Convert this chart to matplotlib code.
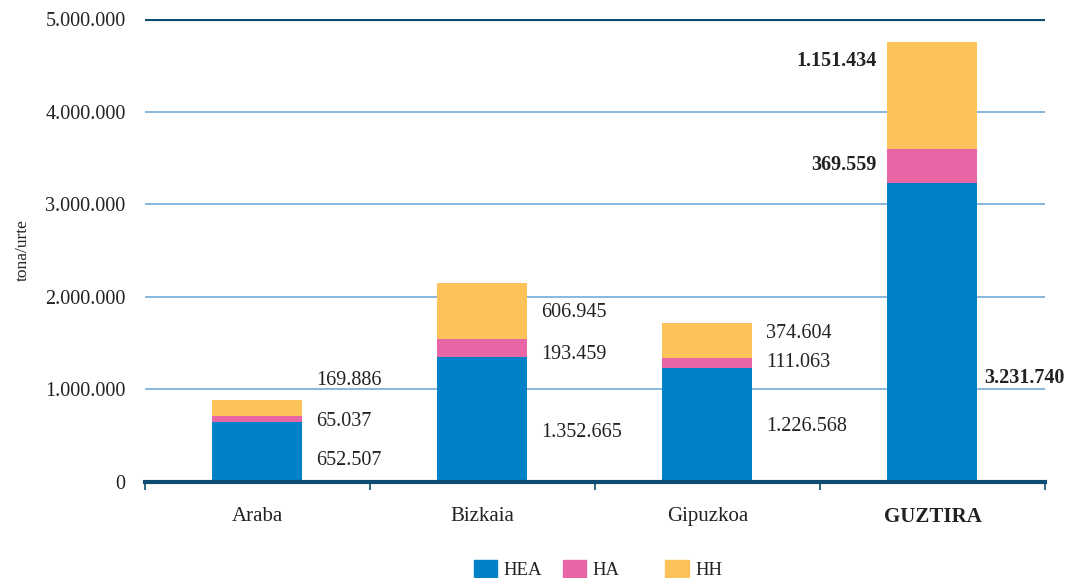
import matplotlib.pyplot as plt
from matplotlib.patches import Patch
from matplotlib.ticker import FuncFormatter

categories = ['Araba', 'Bizkaia', 'Gipuzkoa', 'GUZTIRA']
hea = [652507, 1352665, 1226568, 3231740]
ha = [65037, 193459, 111063, 369559]
hh = [169886, 606945, 374604, 1151434]
series_names = ['HEA', 'HA', 'HH']
colors = ['#0081c8', '#e966a6', '#fdc25a']

# label placement (y in data units)
lab_y = [
    [0.23e6, 0.65e6, 1.10e6],
    [0.53e6, 1.38e6, 1.83e6],
    [0.60e6, 1.29e6, 1.60e6],
    [1.12e6, 3.42e6, 4.55e6],
]

plt.rcParams['font.family'] = ['Liberation Serif', 'DejaVu Serif']
dark = '#0e4d71'
grid = '#72acd9'
txt = '#222222'
fs = 14.5

fig = plt.figure(figsize=(10.81, 5.78), dpi=100)
ax = fig.add_axes([0.1341, 0.1661, 0.8326, 0.801])

x = list(range(len(categories)))
w = 0.4
bottom2 = [a + b for a, b in zip(hea, ha)]
ax.bar(x, hea, w, color=colors[0], zorder=3)
ax.bar(x, ha, w, bottom=hea, color=colors[1], zorder=3)
ax.bar(x, hh, w, bottom=bottom2, color=colors[2], zorder=3)

for yv in [1e6, 2e6, 3e6, 4e6]:
    ax.axhline(yv, color=grid, lw=1.2, zorder=1)
ax.axhline(5e6, color=dark, lw=3, zorder=4)

ax.set_xlim(-0.5, 3.5)
ax.set_ylim(0, 5e6)
for s in ['left', 'right', 'top']:
    ax.spines[s].set_visible(False)
ax.spines['bottom'].set_color(dark)
ax.spines['bottom'].set_linewidth(3)
ax.spines['bottom'].set_zorder(5)

ax.set_yticks([0, 1e6, 2e6, 3e6, 4e6, 5e6])
ax.yaxis.set_major_formatter(FuncFormatter(lambda v, p: f'{int(v):,}'.replace(',', '.')))
ax.tick_params(axis='y', length=0, pad=14, labelsize=fs, labelcolor=txt)

ax.set_xticks([-0.5, 0.5, 1.5, 2.5, 3.5])
ax.set_xticklabels([])
ax.tick_params(axis='x', direction='out', length=6, color=dark, width=1.2)
for i, c in enumerate(categories):
    ax.text(i, -0.055, c, transform=ax.get_xaxis_transform(), ha='center', va='top',
            fontsize=15, color=txt, fontweight='bold' if c == 'GUZTIRA' else 'normal')

ax.set_ylabel('tona/urte', fontsize=12.5, color=txt, labelpad=10)

fmt = lambda v: f'{v:,}'.replace(',', '.')
for i in range(3):
    vals = [hea[i], ha[i], hh[i]]
    for j in range(3):
        ax.text(i + 0.26, lab_y[i][j], fmt(vals[j]), ha='left', va='center',
                fontsize=fs, color=txt)
# totals column
tot = [hea[3], ha[3], hh[3]]
ax.text(3 + 0.23, lab_y[3][0], fmt(tot[0]), ha='left', va='center', fontsize=fs,
        fontweight='bold', color=txt)
ax.text(3 - 0.25, lab_y[3][1], fmt(tot[1]), ha='right', va='center', fontsize=fs,
        fontweight='bold', color=txt)
ax.text(3 - 0.25, lab_y[3][2], fmt(tot[2]), ha='right', va='center', fontsize=fs,
        fontweight='bold', color=txt)

# legend: one entry per box, placed like the original
leg_x = [0.428, 0.510, 0.605]
for name, col, lx in zip(series_names, colors, leg_x):
    lg = fig.legend(handles=[Patch(color=col, label=name)], loc='lower left',
                    bbox_to_anchor=(lx, -0.021), frameon=False, fontsize=13.5,
                    handlelength=1.25, handleheight=1.0, handletextpad=0.35,
                    borderaxespad=0.2)
    for t in lg.get_texts():
        t.set_color(txt)

fig.savefig('out.png', dpi=100)
